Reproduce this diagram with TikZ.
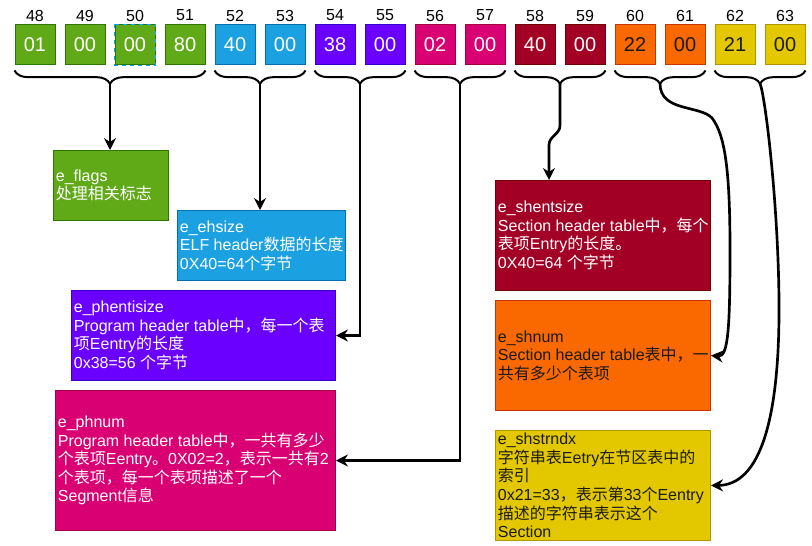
\documentclass[tikz,border=0pt]{standalone}
\usepackage{fontspec}
\setmainfont{Liberation Sans}
\newfontfamily\zhfont{Noto Sans CJK SC}
\newcommand{\zh}[1]{{\zhfont #1}}
\usetikzlibrary{arrows.meta,positioning,calc,decorations.pathreplacing}
\definecolor{grn}{HTML}{60A917}
\definecolor{grnD}{HTML}{2D7600}
\definecolor{blu}{HTML}{1BA1E2}
\definecolor{bluD}{HTML}{006EAF}
\definecolor{vio}{HTML}{6A00FF}
\definecolor{vioD}{HTML}{3700CC}
\definecolor{mag}{HTML}{D80073}
\definecolor{magD}{HTML}{A50040}
\definecolor{crim}{HTML}{A20025}
\definecolor{crimD}{HTML}{6F0000}
\definecolor{orng}{HTML}{FA6800}
\definecolor{orngD}{HTML}{C73500}
\definecolor{yel}{HTML}{E3C800}
\definecolor{yelD}{HTML}{B09500}
\definecolor{sel}{HTML}{00A8FF}
\definecolor{ink}{HTML}{1A1A1A}
\tikzset{
  byte/.style={rectangle, minimum width=30pt, minimum height=30pt, inner sep=0pt,
               line width=0.75pt, font=\fontsize{15}{18}\selectfont},
  num/.style={font=\fontsize{12}{14}\selectfont, inner sep=0pt},
  card/.style={rectangle, anchor=north west, inner sep=0pt, line width=0.75pt},
  cardtxt/.style={anchor=west, align=left, inner sep=0pt, xshift=2pt,
                  font=\fontsize{12}{13.9}\selectfont},
  brc/.style={decorate, decoration={brace, amplitude=10pt}, line width=1.5pt},
  fl/.style={-{Stealth[length=9pt, width=9pt, inset=3pt]}, line width=2pt},
  selbox/.style={draw=sel, dashed, line width=0.75pt}
}

\begin{document}
\begin{tikzpicture}[x=0.75pt, y=-0.75pt]
  \useasboundingbox (0,0) rectangle (812,545);
  % bytes 48..63 of the ELF header
  \foreach \i/\v/\c/\t in {48/01/grn/white, 49/00/grn/white, 50/00/grn/white, 51/80/grn/white,
      52/40/blu/white, 53/00/blu/white, 54/38/vio/white, 55/00/vio/white,
      56/02/mag/white, 57/00/mag/white, 58/40/crim/white, 59/00/crim/white,
      60/22/orng/ink, 61/00/orng/ink, 62/21/yel/ink, 63/00/yel/ink} {
    \node[byte, fill=\c, draw=\c D, text=\t] (b\i) at ({35+50*(\i-48)},45) {\v};
    \node[num] (n\i) at ($(b\i.north)+(0,-9)$) {\i};
  }
  \draw[selbox] (b50.north west) rectangle (b50.south east);

  % braces
  \draw[brc] ($(b51.south east)+(0,5)$) -- ($(b48.south west)+(0,5)$);
  \draw[brc] ($(b53.south east)+(0,5)$) -- ($(b52.south west)+(0,5)$);
  \draw[brc] ($(b55.south east)+(0,5)$) -- ($(b54.south west)+(0,5)$);
  \draw[brc] ($(b57.south east)+(0,5)$) -- ($(b56.south west)+(0,5)$);
  \draw[brc] ($(b59.south east)+(0,5)$) -- ($(b58.south west)+(0,5)$);
  \draw[brc] ($(b61.south east)+(0,5)$) -- ($(b60.south west)+(0,5)$);
  \draw[brc] ($(b63.south east)+(0,5)$) -- ($(b62.south west)+(0,5)$);
  \coordinate (t1) at ($(b48.south west)!.5!(b51.south east)+(0,18)$);
  \coordinate (t2) at ($(b52.south west)!.5!(b53.south east)+(0,18)$);
  \coordinate (t3) at ($(b54.south west)!.5!(b55.south east)+(0,18)$);
  \coordinate (t4) at ($(b56.south west)!.5!(b57.south east)+(0,18)$);
  \coordinate (t5) at ($(b58.south west)!.5!(b59.south east)+(0,18)$);
  \coordinate (t6) at ($(b60.south west)!.5!(b61.south east)+(0,18)$);
  \coordinate (t7) at ($(b62.south west)!.5!(b63.south east)+(0,18)$);

  % field descriptions
  \node[card, fill=grn, draw=grnD, minimum width=86.25pt, minimum height=52.5pt] (flags) at (53,150) {};
  \node[cardtxt, text=white] (flagsT) at (flags.west) {e\_flags\\\zh{处理相关标志}};
  \node[card, fill=blu, draw=bluD, minimum width=126pt, minimum height=52.5pt] (ehsize) at (177,210) {};
  \node[cardtxt, text=white] (ehsizeT) at (ehsize.west) {e\_ehsize\\ELF header\zh{数据的长度}\\0X40=64\zh{个字节}};
  \node[card, fill=vio, draw=vioD, minimum width=198pt, minimum height=67.5pt] (phent) at (71,290) {};
  \node[cardtxt, text=white] (phentT) at (phent.west) {e\_phentisize\\Program header table\zh{中，每一个表}\\\zh{项}Eentry\zh{的长度}\\0x38=56 \zh{个字节}};
  \node[card, fill=mag, draw=magD, minimum width=210pt, minimum height=105pt] (phnum) at (55,390) {};
  \node[cardtxt, text=white] (phnumT) at (phnum.west) {e\_phnum\\Program header table\zh{中，一共有多少}\\\zh{个表项}Eentry\zh{。}0X02=2\zh{，表示一共有}2\\\zh{个表项，每一个表项描述了一个}\\Segment\zh{信息}};
  \node[card, fill=crim, draw=crimD, minimum width=161.25pt, minimum height=82.5pt] (shent) at (495,180) {};
  \node[cardtxt, text=white] (shentT) at (shent.west) {e\_shentsize\\Section header table\zh{中，每个}\\\zh{表项}Entry\zh{的长度。}\\0X40=64 \zh{个字节}};
  \node[card, fill=orng, draw=orngD, minimum width=161.25pt, minimum height=82.5pt] (shnum) at (495,300) {};
  \node[cardtxt, text=ink] (shnumT) at (shnum.west) {e\_shnum\\Section header table\zh{表中，一}\\\zh{共有多少个表项}};
  \node[card, fill=yel, draw=yelD, minimum width=161.25pt, minimum height=82.5pt] (shstr) at (495,430) {};
  \node[cardtxt, text=ink] (shstrT) at (shstr.west) {e\_shstrndx\\\zh{字符串表}Eetry\zh{在节区表中的}\\\zh{索引}\\0x21=33\zh{，表示第}33\zh{个}Eentry\\\zh{描述的字符串表示这个}\\Section};

  % connectors
  \draw[fl] (t1) -- (t1 |- flags.north);
  \draw[fl] (t2) -- (t2 |- ehsize.north);
  \draw[fl] (t3) |- (phent.east);
  \draw[fl] (t4) |- (phnum.east);
  \coordinate (ts) at ($(shent.north west)+(54,0)$);
  \draw[fl] (t5) -- ++(0,42) to[out=-90,in=90] ($(ts)+(0,-35)$) -- (ts);
  \draw[fl] (t6) .. controls (660,112) and (700,105) .. (712,118)
    .. controls (725,135) and (730,170) .. (730,250)
    .. controls (730,330) and (728,357) .. (shnum.east);
  \draw[fl] (t7) .. controls (765,95) and (778,200) .. (779,300)
    .. controls (780,420) and (760,485) .. (shstr.east);
\end{tikzpicture}
\end{document}
